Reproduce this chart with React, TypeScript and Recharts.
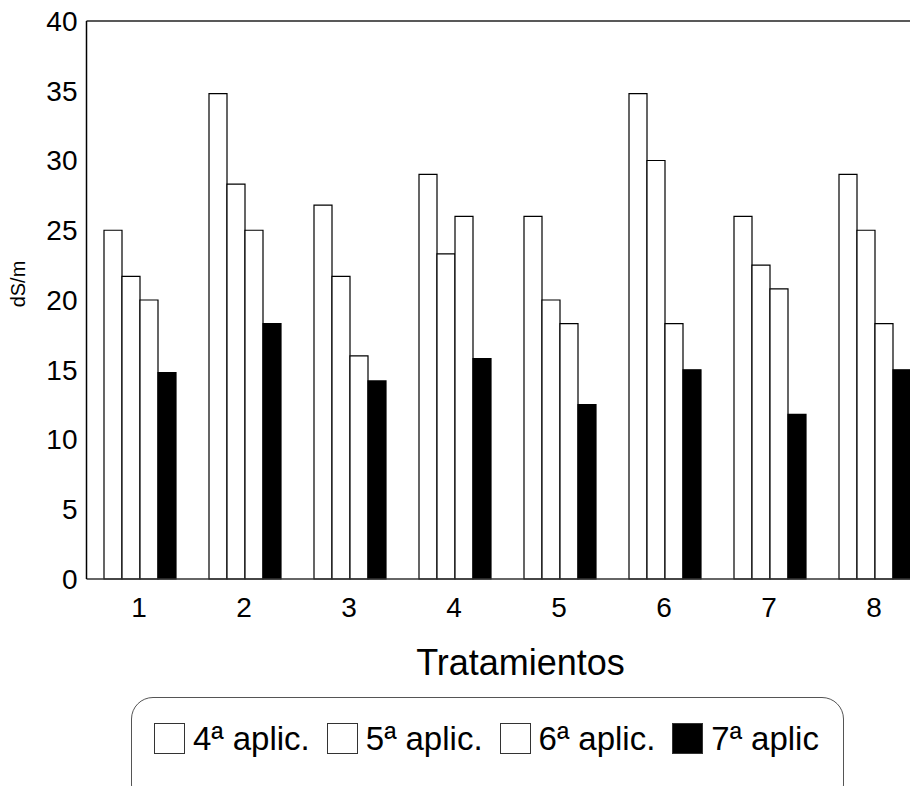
import { BarChart, Bar, XAxis, YAxis, ReferenceLine, Label } from 'recharts'

// valores (dS/m)
const tratamientos = ['1', '2', '3', '4', '5', '6', '7', '8']
const aplic4 = [25, 34.8, 26.8, 29, 26, 34.8, 26, 29]
const aplic5 = [21.7, 28.3, 21.7, 23.3, 20, 30, 22.5, 25]
const aplic6 = [20, 25, 16, 26, 18.3, 18.3, 20.8, 18.3]
const aplic7 = [14.8, 18.3, 14.2, 15.8, 12.5, 15, 11.8, 15]
const yTicks = [0, 5, 10, 15, 20, 25, 30, 35, 40]

const series = [
  { key: 'a4', name: '4ª aplic.', fill: '#ffffff', values: aplic4 },
  { key: 'a5', name: '5ª aplic.', fill: '#ffffff', values: aplic5 },
  { key: 'a6', name: '6ª aplic.', fill: '#ffffff', values: aplic6 },
  { key: 'a7', name: '7ª aplic', fill: '#000000', values: aplic7 },
]

const chartData = tratamientos.map((t, i) => {
  const row: Record<string, string | number> = { trat: t }
  series.forEach((s) => {
    row[s.key] = s.values[i]
  })
  return row
})

const font = '"Liberation Sans", Arial, Helvetica, sans-serif'

function LegendBox() {
  return (
    <div
      style={{
        position: 'absolute',
        left: 123,
        top: 689,
        width: 713,
        height: 110,
        border: '1.5px solid #555',
        borderRadius: 22,
        boxSizing: 'border-box',
        display: 'flex',
        alignItems: 'flex-start',
        paddingLeft: 22,
        paddingTop: 25,
        fontFamily: font,
        fontSize: 33,
        color: '#000',
      }}
    >
      {series.map((s) => (
        <div key={s.key} style={{ display: 'flex', alignItems: 'center', marginRight: 17 }}>
          <span
            style={{
              display: 'inline-block',
              width: 31,
              height: 31,
              background: s.fill,
              border: '1px solid #333',
              boxSizing: 'border-box',
              marginRight: 8,
            }}
          />
          <span style={{ lineHeight: '31px', whiteSpace: 'nowrap' }}>{s.name}</span>
        </div>
      ))}
    </div>
  )
}

export default function App() {
  return (
    <div style={{ position: 'relative', width: 910, height: 778, overflow: 'hidden' }}>
      <BarChart
        width={930}
        height={778}
        data={chartData}
        margin={{ top: 13, right: 11.5, left: 0, bottom: 147 }}
        barCategoryGap={17.5}
        barGap={0}
      >
        <XAxis
          dataKey="trat"
          height={60}
          tickLine={false}
          tickSize={0}
          tickMargin={18}
          axisLine={{ stroke: '#333', strokeWidth: 1.5 }}
          tick={{ fontSize: 28, fill: '#000', fontFamily: font }}
        >
          <Label
            content={({ viewBox }: any) => (
              <text
                x={viewBox.x + viewBox.width / 2 + 14}
                y={viewBox.y + 96}
                textAnchor="middle"
                fontSize={36}
                fontFamily={font}
                fill="#000"
              >
                Tratamientos
              </text>
            )}
          />
        </XAxis>
        <YAxis
          width={78.5}
          domain={[0, 40]}
          ticks={yTicks}
          interval={0}
          tickLine={false}
          tickSize={0}
          tickMargin={9}
          axisLine={{ stroke: '#000', strokeWidth: 1.5 }}
          tick={{ fontSize: 28, fill: '#000', fontFamily: font }}
        >
          <Label
            content={({ viewBox }: any) => {
              const x = viewBox.x + 10
              const y = viewBox.y + viewBox.height / 2 - 16
              return (
                <text
                  x={x}
                  y={y}
                  transform={`rotate(-90, ${x}, ${y})`}
                  textAnchor="middle"
                  dominantBaseline="central"
                  fontSize={20}
                  fontFamily={font}
                  fill="#000"
                >
                  dS/m
                </text>
              )
            }}
          />
        </YAxis>
        <ReferenceLine y={40} stroke="#222" strokeWidth={1.5} />
        {series.map((s) => (
          <Bar
            key={s.key}
            dataKey={s.key}
            name={s.name}
            fill={s.fill}
            stroke="#000"
            strokeWidth={1.2}
            isAnimationActive={false}
          />
        ))}
      </BarChart>
      <LegendBox />
    </div>
  )
}
